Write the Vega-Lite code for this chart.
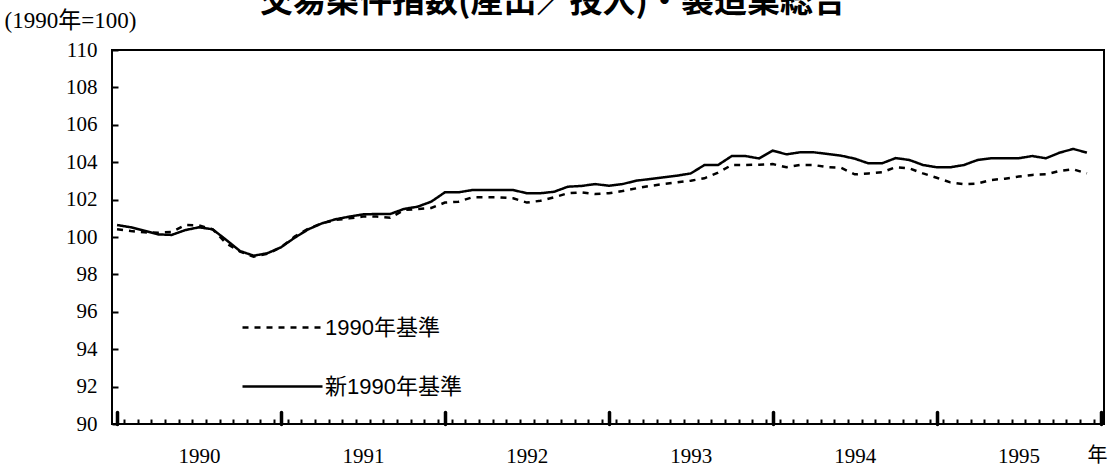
{
  "$schema": "https://vega.github.io/schema/vega-lite/v6.json",
  "width": 992,
  "height": 374,
  "autosize": {"type": "none"},
  "padding": {"left": 112, "top": 50, "right": 5, "bottom": 45},
  "background": "white",
  "config": {
    "view": {"stroke": "black", "strokeWidth": 2},
    "axis": {"grid": false, "domain": false}
  },
  "title": {
    "text": "交易条件指数(産出／投入)・製造業総合",
    "font": "Noto Sans CJK JP",
    "fontSize": 33,
    "fontWeight": "bold",
    "color": "black",
    "anchor": "middle",
    "frame": "group",
    "baseline": "alphabetic",
    "dx": -55,
    "dy": 40,
    "offset": 4
  },
  "data": {
    "values": [
      {"m": 0, "a": 100.41, "b": 100.64},
      {"m": 1, "a": 100.32, "b": 100.52},
      {"m": 2, "a": 100.25, "b": 100.34},
      {"m": 3, "a": 100.23, "b": 100.14},
      {"m": 4, "a": 100.27, "b": 100.11},
      {"m": 5, "a": 100.64, "b": 100.37},
      {"m": 6, "a": 100.62, "b": 100.52},
      {"m": 7, "a": 100.41, "b": 100.41},
      {"m": 8, "a": 99.66, "b": 99.84},
      {"m": 9, "a": 99.22, "b": 99.25},
      {"m": 10, "a": 98.95, "b": 99.0},
      {"m": 11, "a": 99.1, "b": 99.13},
      {"m": 12, "a": 99.45, "b": 99.45},
      {"m": 13, "a": 100.02, "b": 99.96},
      {"m": 14, "a": 100.45, "b": 100.41},
      {"m": 15, "a": 100.73, "b": 100.73},
      {"m": 16, "a": 100.91, "b": 100.95},
      {"m": 17, "a": 101.0, "b": 101.09},
      {"m": 18, "a": 101.09, "b": 101.21},
      {"m": 19, "a": 101.09, "b": 101.23},
      {"m": 20, "a": 101.03, "b": 101.23},
      {"m": 21, "a": 101.44, "b": 101.5},
      {"m": 22, "a": 101.5, "b": 101.62},
      {"m": 23, "a": 101.55, "b": 101.89},
      {"m": 24, "a": 101.84, "b": 102.39},
      {"m": 25, "a": 101.89, "b": 102.39},
      {"m": 26, "a": 102.12, "b": 102.51},
      {"m": 27, "a": 102.12, "b": 102.51},
      {"m": 28, "a": 102.12, "b": 102.51},
      {"m": 29, "a": 102.07, "b": 102.51},
      {"m": 30, "a": 101.84, "b": 102.34},
      {"m": 31, "a": 101.94, "b": 102.34},
      {"m": 32, "a": 102.12, "b": 102.42},
      {"m": 33, "a": 102.34, "b": 102.69},
      {"m": 34, "a": 102.39, "b": 102.73},
      {"m": 35, "a": 102.3, "b": 102.83},
      {"m": 36, "a": 102.34, "b": 102.74},
      {"m": 37, "a": 102.46, "b": 102.83},
      {"m": 38, "a": 102.6, "b": 103.01},
      {"m": 39, "a": 102.73, "b": 103.1},
      {"m": 40, "a": 102.83, "b": 103.19},
      {"m": 41, "a": 102.92, "b": 103.28},
      {"m": 42, "a": 103.01, "b": 103.4},
      {"m": 43, "a": 103.14, "b": 103.85},
      {"m": 44, "a": 103.44, "b": 103.85},
      {"m": 45, "a": 103.85, "b": 104.33},
      {"m": 46, "a": 103.85, "b": 104.33},
      {"m": 47, "a": 103.87, "b": 104.2},
      {"m": 48, "a": 103.9, "b": 104.62},
      {"m": 49, "a": 103.73, "b": 104.42},
      {"m": 50, "a": 103.85, "b": 104.53},
      {"m": 51, "a": 103.85, "b": 104.53},
      {"m": 52, "a": 103.73, "b": 104.44},
      {"m": 53, "a": 103.7, "b": 104.35},
      {"m": 54, "a": 103.35, "b": 104.19},
      {"m": 55, "a": 103.4, "b": 103.94},
      {"m": 56, "a": 103.46, "b": 103.94},
      {"m": 57, "a": 103.73, "b": 104.22},
      {"m": 58, "a": 103.67, "b": 104.12},
      {"m": 59, "a": 103.4, "b": 103.85},
      {"m": 60, "a": 103.17, "b": 103.73},
      {"m": 61, "a": 102.92, "b": 103.73},
      {"m": 62, "a": 102.83, "b": 103.85},
      {"m": 63, "a": 102.86, "b": 104.12},
      {"m": 64, "a": 103.05, "b": 104.21},
      {"m": 65, "a": 103.12, "b": 104.21},
      {"m": 66, "a": 103.23, "b": 104.21},
      {"m": 67, "a": 103.32, "b": 104.33},
      {"m": 68, "a": 103.35, "b": 104.21},
      {"m": 69, "a": 103.53, "b": 104.51},
      {"m": 70, "a": 103.62, "b": 104.71},
      {"m": 71, "a": 103.4, "b": 104.51}
    ]
  },
  "transform": [{"fold": ["a", "b"], "as": ["series", "value"]}],
  "layer": [
    {
      "mark": {"type": "line", "strokeWidth": 2.5, "color": "black"},
      "encoding": {
        "x": {
          "field": "m",
          "type": "quantitative",
          "scale": {"domain": [-0.37, 72.25], "nice": false, "zero": false},
          "axis": {
            "orient": "bottom",
            "title": null,
            "labels": false,
            "values": [0.5,1.5,2.5,3.5,4.5,5.5,6.5,7.5,8.5,9.5,10.5,11.5,12.5,13.5,14.5,15.5,16.5,17.5,18.5,19.5,20.5,21.5,22.5,23.5,24.5,25.5,26.5,27.5,28.5,29.5,30.5,31.5,32.5,33.5,34.5,35.5,36.5,37.5,38.5,39.5,40.5,41.5,42.5,43.5,44.5,45.5,46.5,47.5,48.5,49.5,50.5,51.5,52.5,53.5,54.5,55.5,56.5,57.5,58.5,59.5,60.5,61.5,62.5,63.5,64.5,65.5,66.5,67.5,68.5,69.5,70.5,71.5],
            "tickSize": -5,
            "tickWidth": 2,
            "tickColor": "black"
          }
        },
        "y": {
          "field": "value",
          "type": "quantitative",
          "scale": {"domain": [90, 110], "nice": false, "zero": false},
          "axis": {
            "values": [90, 92, 94, 96, 98, 100, 102, 104, 106, 108, 110],
            "tickSize": -6,
            "tickWidth": 2,
            "tickColor": "black",
            "labelFont": "Liberation Serif",
            "labelFontSize": 21,
            "labelColor": "black",
            "labelPadding": 21,
            "title": "(1990年=100)",
            "titleAngle": 0,
            "titleX": -108,
            "titleY": -23,
            "titleAlign": "left",
            "titleBaseline": "alphabetic",
            "titleFont": "Liberation Serif, Noto Sans CJK JP",
            "titleFontSize": 23,
            "titleFontWeight": "normal",
            "titleColor": "black"
          }
        },
        "strokeDash": {
          "field": "series",
          "type": "nominal",
          "scale": {"domain": ["a", "b"], "range": [[6, 6], [1, 0]]},
          "legend": {
            "orient": "none",
            "legendX": 129,
            "legendY": 236,
            "direction": "vertical",
            "title": null,
            "padding": 0,
            "symbolType": "stroke",
            "symbolSize": 6400,
            "symbolStrokeWidth": 2.5,
            "symbolStrokeColor": "black",
            "labelFont": "Liberation Sans, Noto Sans CJK JP",
            "labelFontSize": 22,
            "labelColor": "black",
            "labelOffset": 1,
            "rowPadding": 6,
            "labelExpr": "datum.label == 'a' ? '1990年基準' : '新1990年基準'"
          }
        }
      }
    },
    {
      "mark": {"type": "line", "strokeOpacity": 0},
      "encoding": {
        "x": {
          "field": "m",
          "type": "quantitative",
          "axis": {
            "orient": "bottom",
            "title": null,
            "labels": false,
            "values": [0, 12, 24, 36, 48, 60, 72],
            "tickSize": -12,
            "tickWidth": 3.5,
            "tickCap": "round",
            "tickColor": "black"
          }
        },
        "y": {"field": "value", "type": "quantitative", "axis": null}
      }
    },
    {
      "mark": {"type": "line", "strokeOpacity": 0},
      "encoding": {
        "x": {
          "field": "m",
          "type": "quantitative",
          "axis": {
            "orient": "bottom",
            "ticks": false,
            "values": [6, 18, 30, 42, 54, 66],
            "labelExpr": "'' + (1990 + floor(datum.value / 12))",
            "labelFont": "Liberation Serif",
            "labelFontSize": 21,
            "labelColor": "black",
            "labelPadding": 21,
            "title": "年",
            "titleX": 985,
            "titleY": 31,
            "titleAlign": "center",
            "titleBaseline": "middle",
            "titleFont": "Noto Sans CJK JP",
            "titleFontSize": 20,
            "titleFontWeight": "normal",
            "titleColor": "black"
          }
        },
        "y": {"field": "value", "type": "quantitative", "axis": null}
      }
    }
  ],
  "resolve": {"axis": {"x": "independent", "y": "independent"}}
}
